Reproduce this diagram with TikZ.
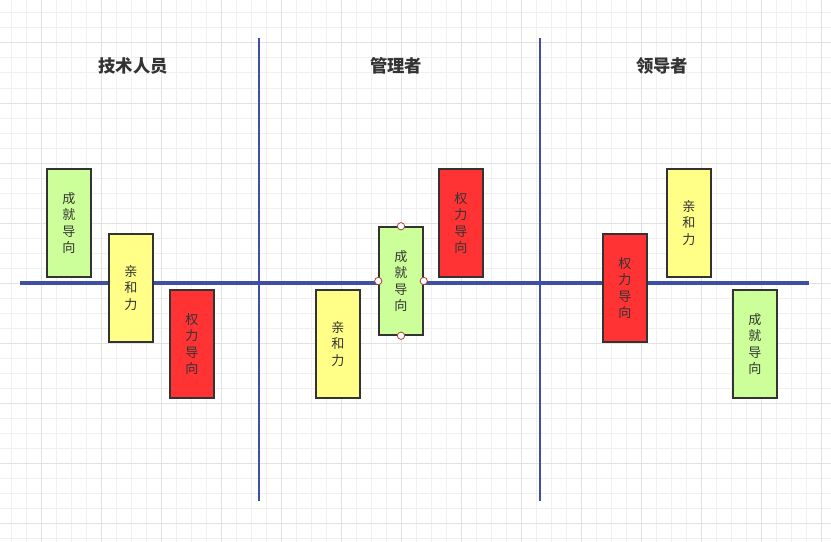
\documentclass[tikz,border=0pt]{standalone}
\usepackage{fontspec}
\newfontfamily\cjk{Noto Sans CJK SC}
\usetikzlibrary{positioning}
\definecolor{gridminor}{RGB}{240,240,240}
\definecolor{gridmajor}{RGB}{226,226,226}
\definecolor{axisblue}{RGB}{62,80,164}
\definecolor{boxline}{RGB}{51,51,51}
\definecolor{boxgreen}{RGB}{204,255,153}
\definecolor{boxyellow}{RGB}{255,255,136}
\definecolor{boxred}{RGB}{255,51,51}
\definecolor{handlered}{RGB}{176,60,60}
\tikzset{
  minorline/.style={draw=gridminor, line width=0.75pt},
  majorline/.style={draw=gridmajor, line width=0.75pt},
  axis/.style={draw=axisblue, line width=2.6pt},
  divider/.style={draw=axisblue, line width=1.9pt},
  title/.style={font=\cjk\bfseries\fontsize{13}{15}\selectfont, text=boxline, inner sep=0pt},
  trait/.style={shape=rectangle, draw=boxline, line width=1.1pt, minimum width=33pt, minimum height=81pt, inner sep=0pt, align=center, font=\cjk\fontsize{9.8}{12.4}\selectfont, text=boxline},
  achieve/.style={trait, fill=boxgreen},
  affinity/.style={trait, fill=boxyellow},
  power/.style={trait, fill=boxred},
  handle/.style={circle, draw=handlered, fill=white, line width=0.6pt, minimum size=5.5pt, inner sep=0pt}
}
\begin{document}
\begin{tikzpicture}[x=0.75pt, y=-0.75pt]
  \useasboundingbox (0,0) rectangle (831,542);
  \fill[white] (0,0) rectangle (831,542);

  % background grid
  \foreach \gx in {11,26,...,826} \draw[minorline] (\gx,0) -- (\gx,542);
  \foreach \gy in {13,28,...,538} \draw[minorline] (0,\gy) -- (831,\gy);
  \foreach \gx in {41,101,...,821} \draw[majorline] (\gx,0) -- (\gx,542);
  \foreach \gy in {43,103,...,523} \draw[majorline] (0,\gy) -- (831,\gy);

  % axes
  \coordinate (axisW) at (20,283);
  \coordinate (axisE) at (809,283);
  \coordinate (divAtop) at (259,38);
  \coordinate (divAbot) at (259,501);
  \coordinate (divBtop) at (540,38);
  \coordinate (divBbot) at (540,501);
  \draw[axis] (axisW) -- (axisE);
  \draw[divider] (divAtop) -- (divAbot);
  \draw[divider] (divBtop) -- (divBbot);

  % column titles
  \node[title] (techtitle) at (133,66) {技术人员};
  \node[title] (mgrtitle) at (396,66) {管理者};
  \node[title] (leadtitle) at (662,66) {领导者};

  % technical staff
  \node[achieve] (techach) at (69,223) {成\\就\\导\\向};
  \node[affinity] (techaff) at (131,288) {亲\\和\\力};
  \node[power] (techpow) at (192,344) {权\\力\\导\\向};

  % managers
  \node[affinity] (mgraff) at (338,344) {亲\\和\\力};
  \node[achieve] (mgrach) at (401,281) {成\\就\\导\\向};
  \node[power] (mgrpow) at (461,223) {权\\力\\导\\向};

  % leaders
  \node[power] (leadpow) at (625,288) {权\\力\\导\\向};
  \node[affinity] (leadaff) at (689,223) {亲\\和\\力};
  \node[achieve] (leadach) at (755,344) {成\\就\\导\\向};

  % selection handles
  \node[handle] (hN) at (mgrach.north) {};
  \node[handle] (hS) at (mgrach.south) {};
  \node[handle] (hW) at (mgrach.west) {};
  \node[handle] (hE) at (mgrach.east) {};
\end{tikzpicture}
\end{document}
